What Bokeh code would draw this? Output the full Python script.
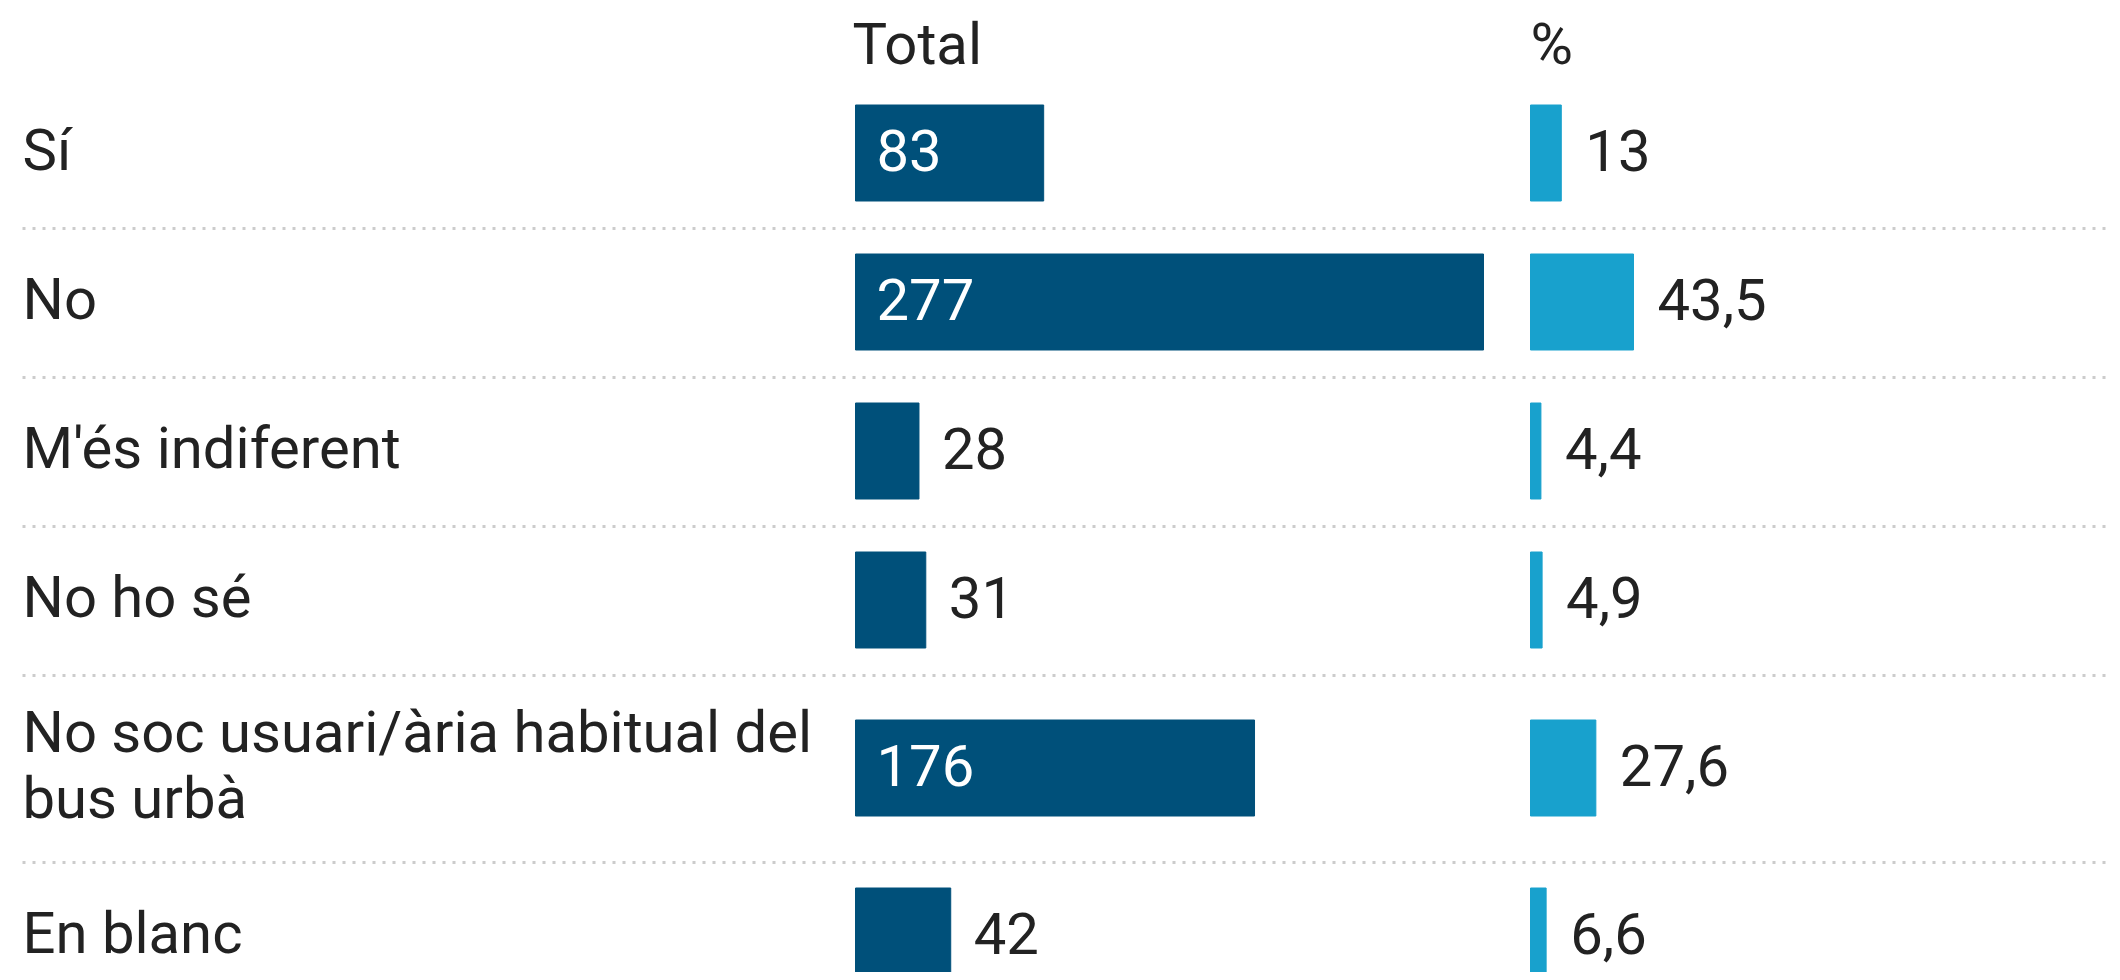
import textwrap
from bokeh.plotting import figure
from bokeh.models import Range1d, ColumnDataSource
from bokeh.core.properties import value
from bokeh.embed import file_html
from bokeh.resources import INLINE

# ---- data ----
categories = ["Sí", "No", "M'és indiferent", "No ho sé",
              "No soc usuari/ària habitual del bus urbà", "En blanc"]
totals = [83, 277, 28, 31, 176, 42]
percents = [13, 43.5, 4.4, 4.9, 27.6, 6.6]
column_titles = ["Total", "%"]

# ---- layout / style (screen pixels) ----
W, H = 2112, 972
ORIGIN = 0
FONT = "Roboto"
FS = 58
LINE_H = 0.97
TEXT = "#222222"
DARK = "#00507a"
LIGHT = "#18a1cd"
SEP = "#cccccc"
LABEL_X = 22
WRAP = 31
TOTAL_X0, TOTAL_W = 855, 628
PCT_X0, PCT_W = 1530, 103
FIRST_TOP, ROW_H, EXTRA_LINE, BAR_H = 79, 149, 38, 96
SEP_X0 = 22
HEADER_MID = 43
TEXT_DY = -3
PAD = 22
CHAR_W = 0.56 * FS


def fmt(v):
    if float(v).is_integer():
        return str(int(v))
    return f"{v:.1f}".replace(".", ",")


wrapped = ["\n".join(textwrap.wrap(c, WRAP)) for c in categories]
tops, centers = [], []
t = FIRST_TOP
for w in wrapped:
    h = ROW_H + EXTRA_LINE * (w.count("\n"))
    tops.append(t)
    centers.append(t + h / 2 - 1)
    t += h
bottoms = tops[1:] + [t]

p = figure(width=W, height=H, output_backend="svg", toolbar_location=None,
           x_range=Range1d(ORIGIN, ORIGIN + W), y_range=Range1d(ORIGIN + H, ORIGIN),
           x_axis_location=None, y_axis_location=None, min_border=0)
p.grid.visible = False
p.outline_line_color = None
p.background_fill_color = "white"
p.border_fill_color = "white"

tpp = TOTAL_W / max(totals)
ppp = PCT_W / max(percents)
p.extra_x_ranges = {
    "total": Range1d((ORIGIN - TOTAL_X0) / tpp, (ORIGIN + W - TOTAL_X0) / tpp),
    "pct": Range1d((ORIGIN - PCT_X0) / ppp, (ORIGIN + W - PCT_X0) / ppp),
}

# separators
p.segment(x0=[SEP_X0] * (len(bottoms) - 1), x1=[ORIGIN + W] * (len(bottoms) - 1),
          y0=bottoms[:-1], y1=bottoms[:-1], line_color=SEP, line_width=3,
          line_dash="3 7")

src = ColumnDataSource(dict(y=centers, label=wrapped, total=totals, pct=percents,
                            zero=[0] * len(totals),
                            tlab=[fmt(v) for v in totals],
                            plab=[fmt(v) for v in percents]))

p.hbar(y="y", left="zero", right="total", height=BAR_H, color=DARK,
       source=src, x_range_name="total")
p.hbar(y="y", left="zero", right="pct", height=BAR_H, color=LIGHT,
       source=src, x_range_name="pct")

common = dict(text_font=value(FONT), text_font_size=f"{FS}px",
              text_baseline="middle", text_align="left")

# category labels
p.text(x=LABEL_X, y="y", text="label", text_color=TEXT, text_line_height=LINE_H,
       y_offset=TEXT_DY, source=src, **common)

# total value labels: inside when they fit, otherwise outside
inside = [v * tpp >= len(fmt(v)) * CHAR_W + 2 * PAD + 20 for v in totals]
in_src = ColumnDataSource(dict(x=[0] * sum(inside),
                               y=[c for c, i in zip(centers, inside) if i],
                               t=[fmt(v) for v, i in zip(totals, inside) if i]))
out_src = ColumnDataSource(dict(x=[v for v, i in zip(totals, inside) if not i],
                                y=[c for c, i in zip(centers, inside) if not i],
                                t=[fmt(v) for v, i in zip(totals, inside) if not i]))
p.text(x="x", y="y", text="t", text_color="white", x_offset=PAD - 1,
       y_offset=TEXT_DY, source=in_src, x_range_name="total", **common)
p.text(x="x", y="y", text="t", text_color=TEXT, x_offset=PAD + 1,
       y_offset=TEXT_DY, source=out_src, x_range_name="total", **common)

# percent labels
p.text(x="pct", y="y", text="plab", text_color=TEXT, x_offset=PAD + 2,
       y_offset=TEXT_DY, source=src, x_range_name="pct", **common)

# column headers
p.text(x=[0], y=[HEADER_MID], text=[column_titles[0]], x_offset=-3,
       text_color=TEXT, x_range_name="total", **common)
p.text(x=[0], y=[HEADER_MID], text=[column_titles[1]], x_offset=0,
       text_color=TEXT, x_range_name="pct", **common)

open("out.html", "w").write(file_html(p, INLINE))
